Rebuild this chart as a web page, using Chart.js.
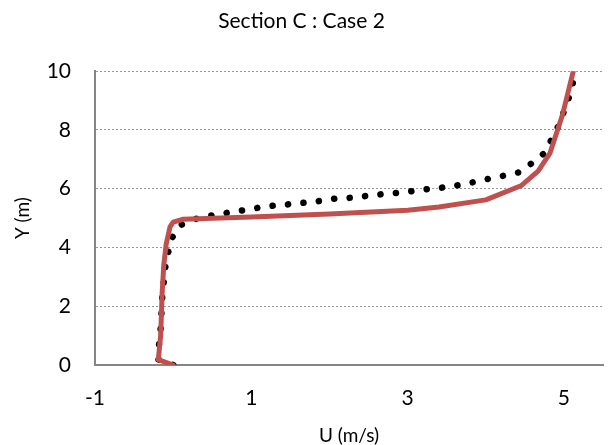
<!DOCTYPE html>
<html>
<head>
<meta charset="utf-8">
<script src="https://cdn.jsdelivr.net/npm/chart.js@4"></script>
<style>
    body { margin: 0; background: #fff; }
    #wrap { width: 611px; height: 445px; }
</style>
</head>
<body>
<div id="wrap"><canvas id="myChart" width="611" height="445"></canvas></div>
<script>
var xTicks = [-1, 1, 3, 5];
var yTicks = [0, 2, 4, 6, 8, 10];

// red solid line
var redU = [0.0, -0.19, -0.16, -0.14, -0.12, -0.09, -0.04, 0.0, 0.13, 1.0, 2.0, 3.0, 3.4, 4.0, 4.45, 4.67, 4.82, 4.98, 5.12];
var redY = [0.0, 0.18, 1.0, 2.5, 3.4, 4.1, 4.7, 4.86, 4.96, 5.04, 5.14, 5.27, 5.38, 5.62, 6.1, 6.6, 7.2, 8.5, 10.0];

// black dotted line
var dotU = [0.0, -0.19, -0.18, -0.16, -0.15, -0.14, -0.12, -0.10, -0.06, -0.01, 0.11, 0.30, 0.49, 0.69, 0.89, 1.08, 1.28, 1.48, 1.67, 1.87, 2.07, 2.27, 2.46, 2.66, 2.86, 3.06, 3.26, 3.45, 3.65, 3.84, 4.04, 4.24, 4.43, 4.59, 4.75, 4.84, 4.93, 5.00, 5.07, 5.12, 5.15];
var dotY = [0.0, 0.19, 0.73, 1.24, 1.75, 2.29, 2.82, 3.33, 3.87, 4.35, 4.78, 4.98, 5.09, 5.18, 5.26, 5.35, 5.42, 5.47, 5.52, 5.58, 5.66, 5.69, 5.75, 5.81, 5.86, 5.92, 5.99, 6.04, 6.12, 6.22, 6.34, 6.45, 6.56, 6.87, 7.21, 7.67, 8.14, 8.63, 9.15, 9.66, 10.0];

function punti(us, ys){
    var out = [];
    for (var i = 0; i < us.length; i++) {
        out.push({x: us[i], y: ys[i]});
    }
    return out;
}

var fontName = 'Lato, "Open Sans", sans-serif';
var axisGray = '#868686';

var ctx = document.getElementById('myChart');
var chart = new Chart(ctx, {
    type: 'scatter',
    data: {
        datasets: [
            {
                label: 'red',
                data: punti(redU, redY),
                showLine: true,
                borderColor: '#C0504D',
                borderWidth: 5,
                borderJoinStyle: 'round',
                borderCapStyle: 'round',
                pointRadius: 0,
                tension: 0
            },
            {
                label: 'dots',
                data: punti(dotU, dotY),
                showLine: true,
                borderColor: '#000000',
                borderWidth: 6.5,
                borderDash: [0.1, 15.4],
                borderCapStyle: 'round',
                pointRadius: 0,
                tension: 0
            }
        ]
    },
    options: {
        responsive: false,
        animation: false,
        layout: { padding: { left: 0, right: 8, top: 0, bottom: 0 } },
        plugins: {
            legend: { display: false },
            tooltip: { enabled: false },
            title: {
                display: true,
                text: 'Section C : Case 2',
                color: '#000',
                font: { family: fontName, size: 21, weight: 'normal', lineHeight: 1.2 },
                padding: { top: 9, bottom: 37 }
            }
        },
        scales: {
            x: {
                type: 'linear',
                min: -1,
                max: 5.5,
                afterBuildTicks: function(scale){
                    scale.ticks = xTicks.map(function(v){ return {value: v}; });
                },
                afterFit: function(scale){ scale.height = 80; },
                grid: { display: false, drawTicks: false },
                border: { display: true, color: axisGray, width: 2 },
                ticks: { color: '#000', padding: 21, font: { family: fontName, size: 21 } },
                title: {
                    display: true,
                    text: 'U (m/s)',
                    color: '#000',
                    font: { family: fontName, size: 19, lineHeight: 1 },
                    padding: { top: 0, bottom: 0 }
                }
            },
            y: {
                type: 'linear',
                min: 0,
                max: 10,
                afterBuildTicks: function(scale){
                    scale.ticks = yTicks.map(function(v){ return {value: v}; });
                },
                afterFit: function(scale){ scale.width = 95; },
                grid: { color: '#999999', lineWidth: 1, drawTicks: false },
                border: { display: true, color: axisGray, width: 2, dash: [2, 2] },
                ticks: { color: '#000', padding: 24, font: { family: fontName, size: 21 } },
                title: {
                    display: true,
                    text: 'Y (m)',
                    color: '#000',
                    font: { family: fontName, size: 19, lineHeight: 1 },
                    padding: { top: 13, bottom: 13 }
                }
            }
        }
    }
});
</script>
</body>
</html>
